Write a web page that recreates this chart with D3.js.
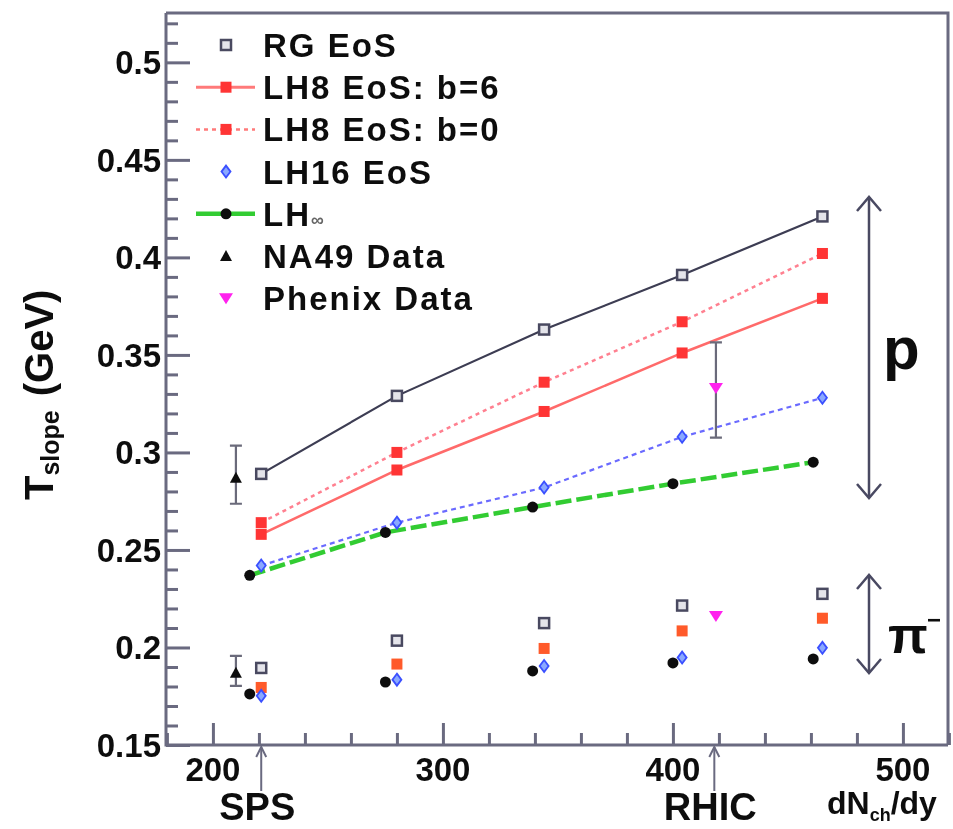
<!DOCTYPE html>
<html><head><meta charset="utf-8">
<script src="https://cdn.jsdelivr.net/npm/d3@7"></script>
<style>body{margin:0;background:#fff}text{font-family:"Liberation Sans",Arial,Helvetica,sans-serif;font-weight:bold;fill:#111}</style>
</head><body><svg id="c" width="953" height="829"></svg>
<script>
// ---- data ----
const modelX   = [221, 280, 344, 404, 465];     // dNch/dy for RG / LH8 / LH16 points
const lhInfX   = [216, 275, 339, 400, 461];     // dNch/dy for LH-infinity points
const rgProton    = [0.289, 0.329, 0.363, 0.391, 0.421];
const lh8b6Proton = [0.258, 0.291, 0.321, 0.351, 0.379];
const lh8b0Proton = [0.264, 0.300, 0.336, 0.367, 0.402];
const lh16Proton  = [0.242, 0.264, 0.282, 0.308, 0.328];
const lhInfProton = [0.237, 0.259, 0.272, 0.284, 0.295];
const rgPion    = [0.1895, 0.2035, 0.2125, 0.2215, 0.2275];
const lh8Pion   = [0.1795, 0.1915, 0.1995, 0.2085, 0.2150];
const lh16Pion  = [0.1752, 0.1835, 0.1905, 0.1948, 0.1998];
const lhInfPion = [0.1762, 0.1823, 0.1880, 0.1921, 0.1941];
const na49X = [210], na49Proton = [0.287], na49ProtonErr = [[0.2737, 0.3035]];
const na49Pion = [0.187], na49PionErr = [[0.1803, 0.1957]];
const phenixX = [418.7], phenixProton = [0.333], phenixProtonErr = [[0.3076, 0.3564]];
const phenixPion = [0.2162];
const yMajorTicks = [0.15, 0.2, 0.25, 0.3, 0.35, 0.4, 0.45, 0.5];
const yTickLabels = ["0.15", "0.2", "0.25", "0.3", "0.35", "0.4", "0.45", "0.5"];
const xMajorTicks = [200, 300, 400, 500];
const xTickLabels = ["200", "300", "400", "500"];
const legendLabels = ["RG EoS", "LH8 EoS: b=6", "LH8 EoS: b=0", "LH16 EoS", "LH", "NA49 Data", "Phenix Data"];
const accelerators = [{name: "SPS", x: 221}, {name: "RHIC", x: 418}];

// ---- layout ----
const svg = d3.select("#c");
const L = 166, R = 948, T = 13, B = 745;
const x = d3.scaleLinear().domain([179.6, 519.6]).range([L, R]);
const y = d3.scaleLinear().domain([0.15, 0.5253]).range([B, T]);
const axisCol = "#6a6a80";

const defs = svg.append("defs");
defs.append("filter").attr("id", "soft").append("feGaussianBlur").attr("stdDeviation", 0.6);
const g = svg.append("g").attr("filter", "url(#soft)");

// axes frame
g.append("path").attr("d", `M${L},${T}H${R}V${B}`).attr("fill", "none").attr("stroke", axisCol).attr("stroke-width", 3);

const yMinor = d3.range(0.15, 0.5251, 0.01).map(v => +v.toFixed(3)).filter(v => !yMajorTicks.some(m => Math.abs(m - v) < 1e-6));
const xMinor = d3.range(180, 521, 20).filter(v => !xMajorTicks.includes(v));

function styleAxis(sel) {
  sel.select(".domain").remove();
  sel.selectAll(".tick line").attr("stroke", axisCol).attr("stroke-width", 3);
}
g.append("g").attr("transform", `translate(${L},0)`)
  .call(d3.axisRight(y).tickValues(yMinor).tickSize(12).tickFormat("")).call(styleAxis);
g.append("g").attr("transform", `translate(${L},0)`)
  .call(d3.axisRight(y).tickValues(yMajorTicks).tickSize(24).tickFormat("")).call(styleAxis);
g.append("g").attr("transform", `translate(0,${B})`)
  .call(d3.axisTop(x).tickValues(xMinor).tickSize(12).tickFormat("")).call(styleAxis);
g.append("g").attr("transform", `translate(0,${B})`)
  .call(d3.axisTop(x).tickValues(xMajorTicks).tickSize(22).tickFormat("")).call(styleAxis);
g.append("path").attr("d", `M${L},${T}V${B}H${R}`).attr("fill", "none").attr("stroke", axisCol).attr("stroke-width", 3);

// tick labels
g.selectAll(".ylab").data(yMajorTicks).join("text")
  .attr("x", 161).attr("y", d => y(d) + 12).attr("text-anchor", "end")
  .style("font-size", "33px").text((d, i) => yTickLabels[i]);
g.selectAll(".xlab").data(xMajorTicks).join("text")
  .attr("x", d => x(d)).attr("y", 781).attr("text-anchor", "middle")
  .style("font-size", "33px").text((d, i) => xTickLabels[i]);

// axis titles
const yt = g.append("text").attr("transform", "translate(53,500) rotate(-90)").style("font-size", "40px");
yt.append("tspan").text("T");
yt.append("tspan").attr("dy", 6).style("font-size", "25px").text("slope");
yt.append("tspan").attr("dy", -6).attr("dx", 14).text("(GeV)");
const xt = g.append("text").attr("x", 827).attr("y", 814).style("font-size", "32px");
xt.append("tspan").text("dN");
xt.append("tspan").attr("dy", 7).style("font-size", "18px").text("ch");
xt.append("tspan").attr("dy", -7).text("/dy");

// accelerator arrows
accelerators.forEach(a => {
  const ax = x(a.x);
  g.append("path").attr("d", `M${ax},${B + 2}V${B + 46}`).attr("stroke", axisCol).attr("stroke-width", 2).attr("fill", "none");
  g.append("path").attr("d", `M${ax - 5},${B + 12}L${ax},${B + 2}L${ax + 5},${B + 12}`).attr("stroke", axisCol).attr("stroke-width", 2).attr("fill", "none");
  g.append("text").attr("x", ax - 4).attr("y", 820).attr("text-anchor", "middle").style("font-size", "38px").text(a.name);
});

// right double arrows
function dblArrow(x0, y0, y1) {
  g.append("path").attr("d", `M${x0},${y0}V${y1}`).attr("stroke", "#4a4a62").attr("stroke-width", 2.5).attr("fill", "none");
  g.append("path").attr("d", `M${x0 - 12},${y0 + 14}L${x0},${y0}L${x0 + 12},${y0 + 14}`).attr("stroke", "#4a4a62").attr("stroke-width", 2.5).attr("fill", "none");
  g.append("path").attr("d", `M${x0 - 12},${y1 - 14}L${x0},${y1}L${x0 + 12},${y1 - 14}`).attr("stroke", "#4a4a62").attr("stroke-width", 2.5).attr("fill", "none");
}
dblArrow(869, 197, 498);
dblArrow(869, 575, 673);
g.append("text").attr("x", 883).attr("y", 369).style("font-size", "60px").text("p");
g.append("text").attr("x", 888).attr("y", 653).style("font-size", "52px").text("π");
g.append("text").attr("x", 927).attr("y", 628).style("font-size", "24px").text("−");

// ---- series ----
const lineGen = (xs) => d3.line().x((d, i) => x(xs[i])).y(d => y(d));
const series = [
  {vals: rgProton, xs: modelX, stroke: "#3c3c52", w: 2.2, dash: null},
  {vals: lh8b0Proton, xs: modelX, stroke: "#ff8090", w: 2.5, dash: "4,4"},
  {vals: lh8b6Proton, xs: modelX, stroke: "#ff6a6a", w: 2.5, dash: null},
  {vals: lh16Proton, xs: modelX, stroke: "#6a6aff", w: 2.2, dash: "5,4"},
  {vals: lhInfProton, xs: lhInfX, stroke: "#33cc33", w: 4.5, dash: "16,5"}
];
series.forEach(s => {
  g.append("path").datum(s.vals).attr("d", lineGen(s.xs)).attr("fill", "none")
    .attr("stroke", s.stroke).attr("stroke-width", s.w).attr("stroke-dasharray", s.dash);
});

// error bars
function errBar(xv, lo, hi) {
  const px = x(xv);
  g.append("path").attr("d", `M${px},${y(lo)}V${y(hi)}M${px - 6},${y(lo)}H${px + 6}M${px - 6},${y(hi)}H${px + 6}`)
    .attr("stroke", "#6a6a7a").attr("stroke-width", 2.2).attr("fill", "none");
}
errBar(na49X[0], na49ProtonErr[0][0], na49ProtonErr[0][1]);
errBar(na49X[0], na49PionErr[0][0], na49PionErr[0][1]);
errBar(phenixX[0], phenixProtonErr[0][0], phenixProtonErr[0][1]);

// markers
function rgMark(sel) { sel.append("rect").attr("x", -5).attr("y", -5).attr("width", 10).attr("height", 10).attr("fill", "#e4e4ea").attr("stroke", "#4a4a60").attr("stroke-width", 2.5); }
function sqMark(col) { return sel => sel.append("rect").attr("x", -5.5).attr("y", -5.5).attr("width", 11).attr("height", 11).attr("fill", col); }
function diaMark(sel) { sel.append("path").attr("d", "M0,-6L4.5,0L0,6L-4.5,0Z").attr("fill", "#8aa8ff").attr("stroke", "#3a50ff").attr("stroke-width", 1.8); }
function dotMark(sel) { sel.append("circle").attr("r", 5.5).attr("fill", "#111"); }
function triUp(sel) { sel.append("path").attr("d", "M0,-6L6,5H-6Z").attr("fill", "#111"); }
function triDown(sel) { sel.append("path").attr("d", "M-7,-5H7L0,6Z").attr("fill", "#ff22ee"); }

function plot(xs, vals, mark) {
  vals.forEach((v, i) => { const s = g.append("g").attr("transform", `translate(${x(xs[i])},${y(v)})`); mark(s); });
}
plot(modelX, rgProton, rgMark);
plot(modelX, lh8b0Proton, sqMark("#ff3636"));
plot(modelX, lh8b6Proton, sqMark("#ff3636"));
plot(modelX, lh16Proton, diaMark);
plot(lhInfX, lhInfProton, dotMark);
plot(modelX, rgPion, rgMark);
plot(modelX, lh8Pion, sqMark("#ff5a2a"));
plot(modelX, lh16Pion, diaMark);
plot(lhInfX, lhInfPion, dotMark);
plot(na49X, na49Proton, triUp);
plot(na49X, na49Pion, triUp);
plot(phenixX, phenixProton, triDown);
plot(phenixX, phenixPion, triDown);

// ---- legend ----
const legMarks = [
  {mark: rgMark, line: null},
  {mark: sqMark("#ff3636"), line: {stroke: "#ff7a7a", w: 3, dash: null}},
  {mark: sqMark("#ff3636"), line: {stroke: "#ff7a7a", w: 2.5, dash: "4,4"}},
  {mark: diaMark, line: null},
  {mark: dotMark, line: {stroke: "#33cc33", w: 4.5, dash: null}},
  {mark: triUp, line: null},
  {mark: triDown, line: null}
];
const legY0 = 45, legDY = 42.2;
legendLabels.forEach((lab, i) => {
  const cy = legY0 + i * legDY;
  const m = legMarks[i];
  if (m.line) g.append("path").attr("d", `M196,${cy}H255`).attr("stroke", m.line.stroke).attr("stroke-width", m.line.w).attr("stroke-dasharray", m.line.dash).attr("fill", "none");
  const s = g.append("g").attr("transform", `translate(226,${cy})`); m.mark(s);
  const t = g.append("text").attr("x", 263).attr("y", cy + 12).style("font-size", "33px").style("letter-spacing", "2px").text(lab);
  if (i === 4) t.append("tspan").style("font-size", "18px").style("fill", "#666").style("letter-spacing", "0px").text("∞");
});
</script></body></html>
